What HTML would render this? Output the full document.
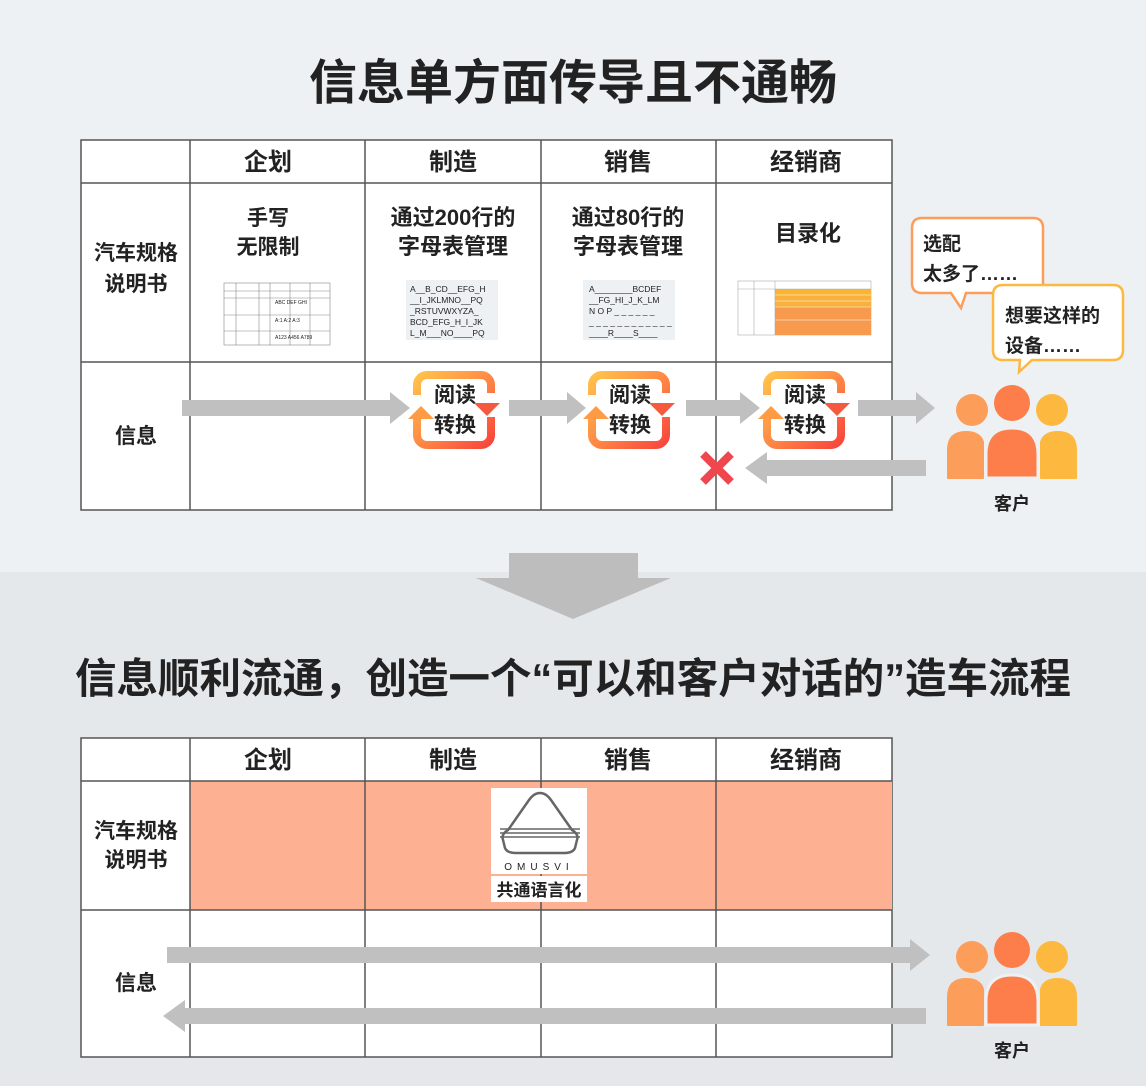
<!DOCTYPE html>
<html><head><meta charset="utf-8">
<style>
html,body{margin:0;padding:0;}
body{width:1146px;height:1081px;overflow:hidden;background:#e4e8eb;font-family:"Liberation Sans","Noto Sans CJK SC",sans-serif;}
svg text{font-family:"Liberation Sans","Noto Sans CJK SC",sans-serif;fill:#222;}
</style></head><body>
<svg width="1146" height="1081" viewBox="0 0 1146 1081" xmlns="http://www.w3.org/2000/svg">
<defs>
<linearGradient id="g1" x1="0" y1="0" x2="1" y2="1">
<stop offset="0" stop-color="#ffc24a"/><stop offset="0.5" stop-color="#ff8a45"/><stop offset="1" stop-color="#f8453c"/>
</linearGradient>
<g id="rc">
<rect x="4" y="4" width="74" height="70" rx="10" fill="none" stroke="url(#g1)" stroke-width="8"/>
<rect x="0" y="24" width="12" height="24" fill="#fff"/>
<rect x="70" y="22" width="12" height="24" fill="#fff"/>
<polygon points="-5,48 8,35 21,48" fill="#ff9a45"/>
<polygon points="61,32 74,45 87,32" fill="#f65a3e"/>
<text x="42" y="31" font-size="21" font-weight="bold" text-anchor="middle">阅读</text>
<text x="42" y="61" font-size="21" font-weight="bold" text-anchor="middle">转换</text>
</g>
<g id="cust">
<circle cx="-40" cy="0" r="16" fill="#fd9d5a"/>
<circle cx="0" cy="-7" r="18" fill="#fd7e4a"/>
<circle cx="40" cy="0" r="16" fill="#fdb840"/>
<path d="M-64,68 V40 Q-64,22 -46,22 Q-32,22 -29,32 V68 Z" fill="#fd9d5a" stroke="#fd9d5a" stroke-width="2" stroke-linejoin="round"/>
<path d="M64,68 V40 Q64,22 46,22 Q32,22 29,32 V68 Z" fill="#fdb840" stroke="#fdb840" stroke-width="2" stroke-linejoin="round"/>
<path d="M-26,68 V44 Q-26,18 0,18 Q26,18 26,44 V68 Z" fill="#fd7e4a" stroke="#eef1f4" stroke-width="3"/>
</g>
</defs>
<rect x="0" y="0" width="1146" height="572" fill="#eef1f4"/>
<rect x="0" y="572" width="1146" height="509" fill="#e4e8eb"/>

<text x="573" y="99" font-size="48" font-weight="bold" text-anchor="middle">信息单方面传导且不通畅</text>

<!-- table 1 -->
<rect x="81" y="140" width="811" height="370" fill="#fff" stroke="#555" stroke-width="1.5"/>
<g stroke="#555" stroke-width="1.5">
<line x1="190" y1="140" x2="190" y2="510"/><line x1="365" y1="140" x2="365" y2="510"/>
<line x1="541" y1="140" x2="541" y2="510"/><line x1="716" y1="140" x2="716" y2="510"/>
<line x1="81" y1="183" x2="892" y2="183"/><line x1="81" y1="362" x2="892" y2="362"/>
</g>
<g font-size="24" font-weight="bold" text-anchor="middle">
<text x="268" y="170">企划</text><text x="453" y="170">制造</text><text x="628" y="170">销售</text><text x="806" y="170">经销商</text>
</g>
<g font-size="21" font-weight="bold" text-anchor="middle">
<text x="136" y="260">汽车规格</text><text x="136" y="291">说明书</text>
<text x="136" y="443">信息</text>
<text x="268" y="225">手写</text><text x="268" y="254">无限制</text>
<text x="453" y="225" font-size="22">通过200行的</text><text x="453" y="254" font-size="22">字母表管理</text>
<text x="628" y="225" font-size="22">通过80行的</text><text x="628" y="254" font-size="22">字母表管理</text>
<text x="808" y="241" font-size="22">目录化</text>
</g>
<!-- small table images -->
<g stroke="#888" stroke-width="0.6" fill="none">
<rect x="224" y="283" width="106" height="62"/>
<line x1="224" y1="291" x2="330" y2="291"/><line x1="224" y1="298" x2="330" y2="298"/>
<line x1="224" y1="315" x2="330" y2="315"/><line x1="224" y1="331" x2="330" y2="331"/>
<line x1="236" y1="283" x2="236" y2="345"/><line x1="259" y1="283" x2="259" y2="345"/>
<line x1="270" y1="283" x2="270" y2="345"/><line x1="290" y1="283" x2="290" y2="345"/><line x1="310" y1="283" x2="310" y2="345"/>
</g>
<g font-size="5" fill="#444"><text x="275" y="304">ABC  DEF  GHI</text><text x="275" y="322">A:1  A:2  A:3</text><text x="275" y="339">A123 A456 A789</text></g>
<rect x="406" y="280" width="92" height="60" fill="#eef1f4"/>
<g font-size="8.5" fill="#333">
<text x="410" y="292">A__B_CD__EFG_H</text><text x="410" y="303">__I_JKLMNO__PQ</text>
<text x="410" y="314">_RSTUVWXYZA_</text><text x="410" y="325">BCD_EFG_H_I_JK</text><text x="410" y="336">L_M___NO____PQ</text>
</g>
<rect x="583" y="280" width="92" height="60" fill="#eef1f4"/>
<g font-size="8.5" fill="#333">
<text x="589" y="292">A________BCDEF</text><text x="589" y="303">__FG_HI_J_K_LM</text>
<text x="589" y="314">N O P _ _ _ _ _ _</text><text x="589" y="325">_ _ _ _ _ _ _ _ _ _ _ _</text><text x="589" y="336">____R____S____</text>
</g>
<g>
<rect x="738" y="281" width="133" height="54" fill="#fff" stroke="#aaa" stroke-width="0.6"/>
<rect x="775" y="289" width="96" height="6" fill="#fbb534"/>
<rect x="775" y="295" width="96" height="12" fill="#f9b13c"/>
<rect x="775" y="307" width="96" height="28" fill="#f79a4e"/>
<g stroke="#fff" stroke-width="0.6"><line x1="775" y1="295" x2="871" y2="295"/><line x1="775" y1="301" x2="871" y2="301"/><line x1="775" y1="307" x2="871" y2="307"/><line x1="775" y1="320" x2="871" y2="320"/></g>
<line x1="738" y1="289" x2="871" y2="289" stroke="#aaa" stroke-width="0.6"/>
<line x1="754" y1="281" x2="754" y2="335" stroke="#aaa" stroke-width="0.6"/>
<line x1="775" y1="281" x2="775" y2="335" stroke="#aaa" stroke-width="0.6"/>
</g>

<!-- arrows row -->
<g fill="#c0c0c0">
<rect x="182" y="400" width="210" height="16"/><polygon points="390,392 410,408 390,424"/>
<rect x="509" y="400" width="60" height="16"/><polygon points="567,392 586,408 567,424"/>
<rect x="686" y="400" width="56" height="16"/><polygon points="740,392 760,408 740,424"/>
<rect x="858" y="400" width="60" height="16"/><polygon points="916,392 935,408 916,424"/>
<rect x="765" y="460" width="161" height="16"/><polygon points="767,452 745,468 767,484"/>
</g>
<use href="#rc" x="413" y="371"/>
<use href="#rc" x="588" y="371"/>
<use href="#rc" x="763" y="371"/>
<g stroke="#f0464e" stroke-width="8"><line x1="703" y1="454" x2="731" y2="482"/><line x1="731" y1="454" x2="703" y2="482"/></g>

<!-- bubbles -->
<path d="M922,218 H1033 Q1043,218 1043,228 V283 Q1043,293 1033,293 H966 L961,308 L951,293 H922 Q912,293 912,283 V228 Q912,218 922,218 Z" fill="#fff" stroke="#fd9d5a" stroke-width="2.5"/>
<path d="M1003,285 H1113 Q1123,285 1123,295 V350 Q1123,360 1113,360 H1032 L1019,372 L1020,360 H1003 Q993,360 993,350 V295 Q993,285 1003,285 Z" fill="#fff" stroke="#fdb840" stroke-width="2.5"/>
<g font-size="19" font-weight="bold">
<text x="923" y="250">选配</text><text x="923" y="280">太多了……</text>
<text x="1005" y="322">想要这样的</text><text x="1005" y="352">设备……</text>
</g>
<use href="#cust" x="1012" y="410"/>
<text x="1012" y="510" font-size="18" font-weight="bold" text-anchor="middle">客户</text>

<!-- big arrow -->
<rect x="509" y="553" width="129" height="26" fill="#bdbdbd"/>
<polygon points="476,578 671,578 573,619" fill="#bdbdbd"/>

<text x="573" y="693" font-size="41.5" font-weight="bold" text-anchor="middle">信息顺利流通，创造一个“可以和客户对话的”造车流程</text>

<!-- table 2 -->
<rect x="81" y="738" width="811" height="319" fill="#fff" stroke="#555" stroke-width="1.5"/>
<rect x="190" y="781" width="702" height="129" fill="#feb093"/>
<g stroke="#555" stroke-width="1.5">
<line x1="190" y1="738" x2="190" y2="1057"/><line x1="365" y1="738" x2="365" y2="1057"/>
<line x1="541" y1="738" x2="541" y2="1057"/><line x1="716" y1="738" x2="716" y2="1057"/>
<line x1="81" y1="781" x2="892" y2="781"/><line x1="81" y1="910" x2="892" y2="910"/>
</g>
<g font-size="24" font-weight="bold" text-anchor="middle">
<text x="268" y="768">企划</text><text x="453" y="768">制造</text><text x="628" y="768">销售</text><text x="806" y="768">经销商</text>
</g>
<g font-size="21" font-weight="bold" text-anchor="middle">
<text x="136" y="838">汽车规格</text><text x="136" y="867">说明书</text>
<text x="136" y="990">信息</text>
</g>
<rect x="491" y="788" width="96" height="86" fill="#fff"/>
<g fill="none" stroke="#666" stroke-width="2.5">
<path d="M540,793 Q534,793 529,800 L508,830 Q501,834 503,840 L505,848 Q507,853 516,853 H564 Q573,853 575,848 L577,840 Q579,834 572,830 L551,800 Q546,793 540,793 Z"/>
<line x1="500" y1="829" x2="580" y2="829" stroke-width="1.5"/>
<line x1="500" y1="833" x2="580" y2="833" stroke-width="1.5"/>
<line x1="500" y1="837" x2="580" y2="837" stroke-width="1.5"/>
</g>
<text x="539" y="870" font-size="10" text-anchor="middle" letter-spacing="5" fill="#555">OMUSVI</text>
<rect x="491" y="876" width="96" height="26" fill="#fff"/>
<text x="539" y="896" font-size="17" font-weight="bold" text-anchor="middle">共通语言化</text>

<g fill="#c0c0c0">
<rect x="167" y="947" width="745" height="16"/><polygon points="910,939 930,955 910,971"/>
<rect x="183" y="1008" width="743" height="16"/><polygon points="185,1000 163,1016 185,1032"/>
</g>
<use href="#cust" x="1012" y="957"/>
<text x="1012" y="1057" font-size="18" font-weight="bold" text-anchor="middle">客户</text>
</svg>
</body></html>
